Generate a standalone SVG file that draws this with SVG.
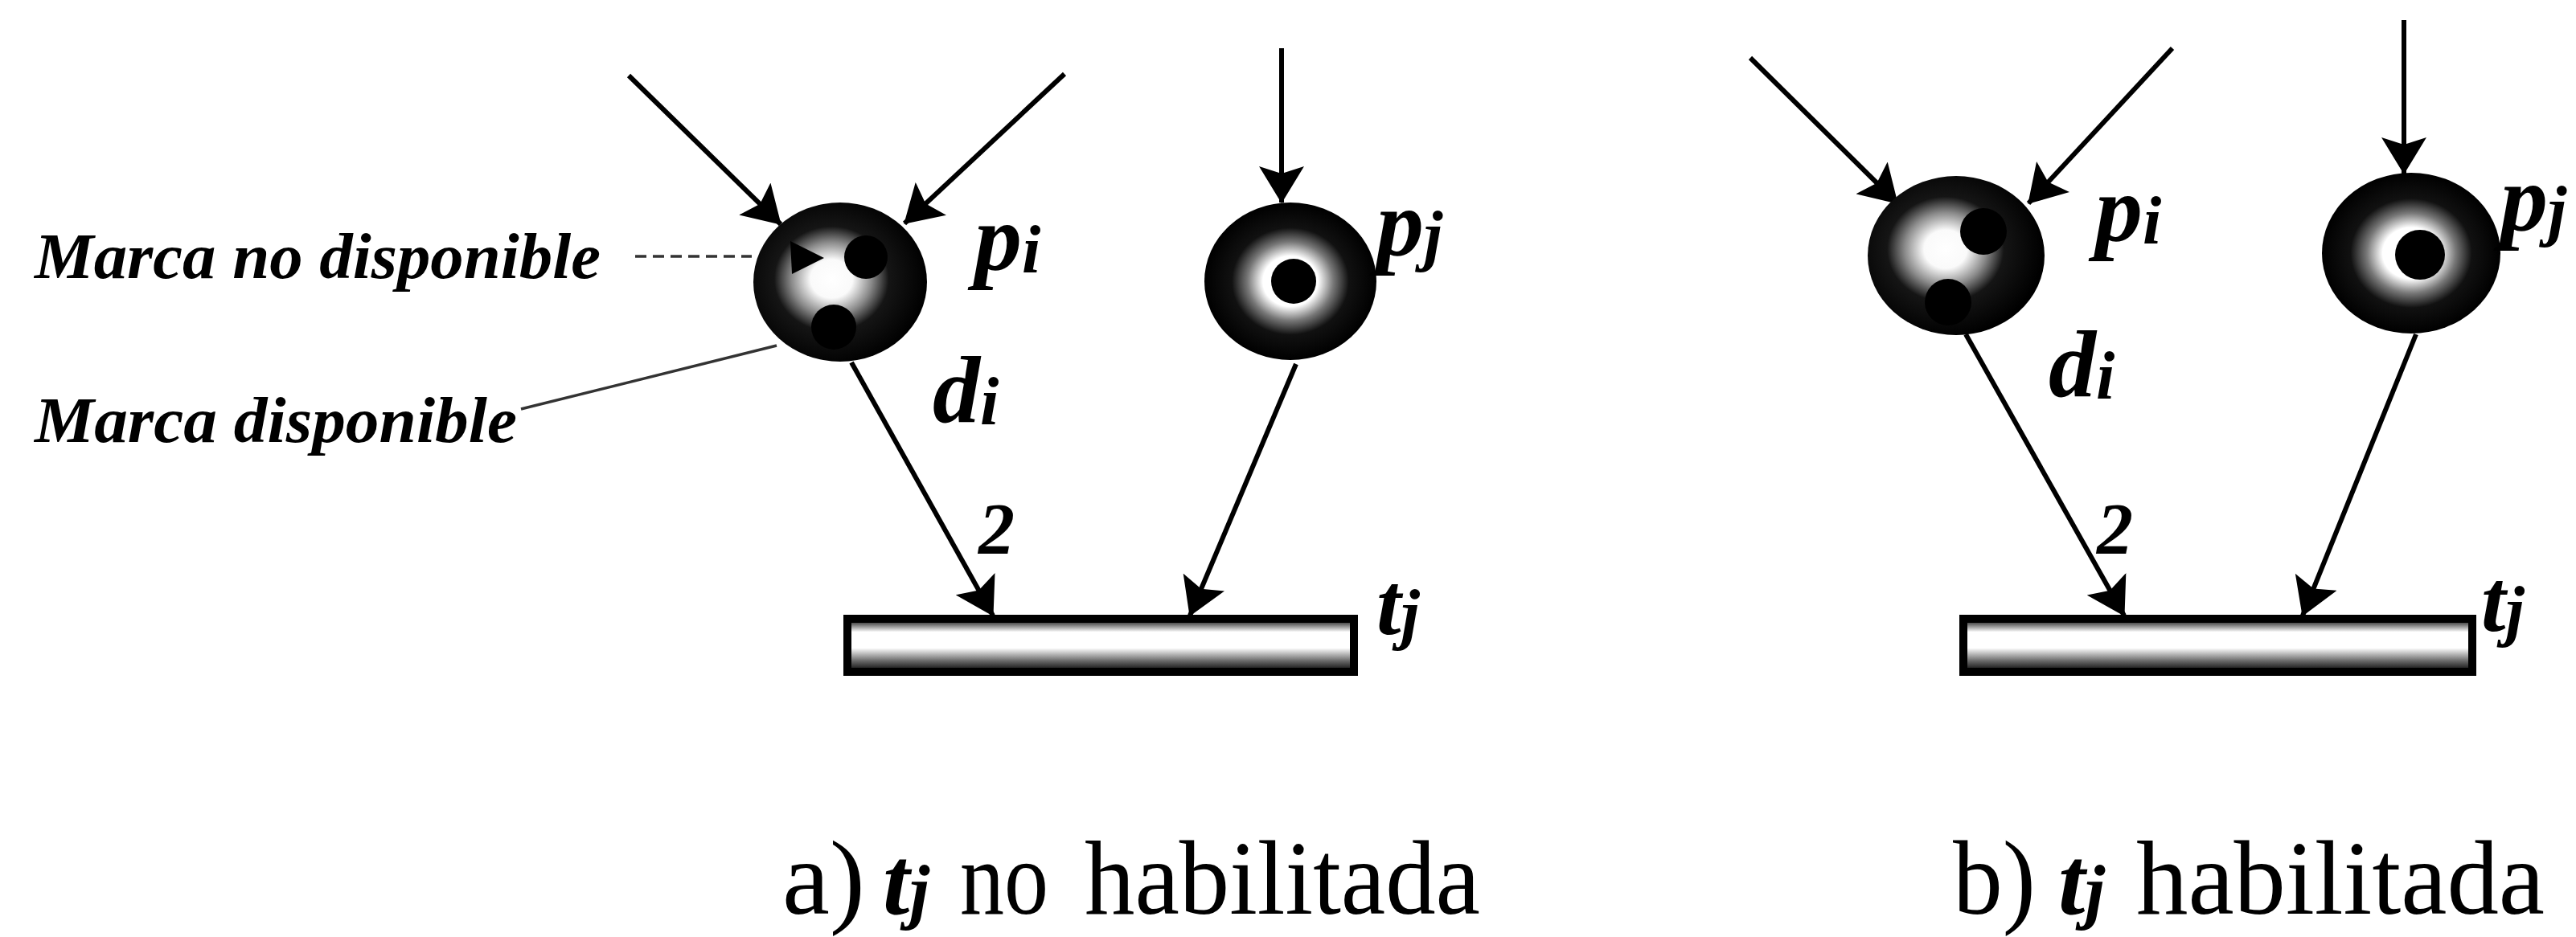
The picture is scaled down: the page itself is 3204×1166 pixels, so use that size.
<svg xmlns="http://www.w3.org/2000/svg" width="3204" height="1166" viewBox="0 0 3204 1166">
<style>
.lbl{font-family:"Liberation Serif","Times New Roman",serif;font-weight:bold;font-style:italic;fill:#000}
.cap{font-family:"Liberation Serif","Times New Roman",serif;fill:#000}
.arc{stroke:#000;stroke-width:6;fill:none;marker-end:url(#ah)}
.lead{stroke:#333;stroke-width:3.5;fill:none}
.tok{fill:#000}
.tr{fill:url(#bar);stroke:#000;stroke-width:10}
</style>
<defs>
<marker id="ah" viewBox="0 0 46 56" refX="45" refY="28" markerWidth="46" markerHeight="56" markerUnits="userSpaceOnUse" orient="auto">
<path d="M0,0 L46,28 L0,56 L9,28 z" fill="#000"/>
</marker>
<radialGradient id="sphL" cx="0.45" cy="0.48" r="0.55">
<stop offset="0" stop-color="#fff"/>
<stop offset="0.22" stop-color="#fafafa"/>
<stop offset="0.42" stop-color="#8a8a8a"/>
<stop offset="0.6" stop-color="#151515"/>
<stop offset="1" stop-color="#000"/>
</radialGradient>
<radialGradient id="sphR" cx="0.44" cy="0.46" r="0.55">
<stop offset="0" stop-color="#fff"/>
<stop offset="0.22" stop-color="#fafafa"/>
<stop offset="0.42" stop-color="#8a8a8a"/>
<stop offset="0.6" stop-color="#151515"/>
<stop offset="1" stop-color="#000"/>
</radialGradient>
<radialGradient id="sphC" cx="0.5" cy="0.5" r="0.5">
<stop offset="0" stop-color="#fff"/>
<stop offset="0.32" stop-color="#fff"/>
<stop offset="0.5" stop-color="#777"/>
<stop offset="0.68" stop-color="#111"/>
<stop offset="1" stop-color="#000"/>
</radialGradient>
<linearGradient id="bar" x1="0" y1="0" x2="0" y2="1">
<stop offset="0" stop-color="#000"/>
<stop offset="0.25" stop-color="#fff"/>
<stop offset="0.55" stop-color="#fff"/>
<stop offset="0.8" stop-color="#666"/>
<stop offset="1" stop-color="#000"/>
</linearGradient>
</defs>
<rect width="3204" height="1166" fill="#fff"/>

<g id="connectors">
<line class="arc" x1="782" y1="94" x2="971" y2="279"/>
<line class="arc" x1="1324" y1="92" x2="1125" y2="278"/>
<line class="arc" x1="1594" y1="60" x2="1594" y2="252"/>
<line class="arc" x1="1059" y1="451" x2="1235" y2="766"/>
<line class="arc" x1="1612" y1="453" x2="1480" y2="766"/>
<line class="arc" x1="2177" y1="72" x2="2360" y2="253"/>
<line class="arc" x1="2702" y1="60" x2="2523" y2="253"/>
<line class="arc" x1="2990" y1="25" x2="2990" y2="216"/>
<line class="arc" x1="2445" y1="416" x2="2642" y2="766"/>
<line class="arc" x1="3005" y1="416" x2="2864" y2="766"/>
<line class="lead" x1="790" y1="319" x2="935" y2="319" stroke-dasharray="14 8"/>
<line class="lead" x1="648" y1="509" x2="966" y2="430"/>
</g>

<g id="pi_a">
<ellipse cx="1045" cy="351" rx="108" ry="99" fill="url(#sphL)"/>
<polygon points="983,300 1025,321 985,341" fill="#000"/>
<circle class="tok" cx="1077" cy="320" r="27"/>
<circle class="tok" cx="1037" cy="407" r="28"/>
<text class="lbl" x="1212" y="336" font-size="118">p<tspan font-size="84" dy="3">i</tspan></text>
</g>
<g id="pj_a">
<ellipse cx="1605" cy="350" rx="107" ry="98" fill="url(#sphC)"/>
<circle class="tok" cx="1609" cy="350" r="28"/>
<text class="lbl" x="1712" y="318" font-size="118">p<tspan font-size="84" dy="3">j</tspan></text>
</g>
<g id="tj_a">
<rect class="tr" x="1054" y="770" width="630" height="66"/>
<text class="lbl" x="1712" y="789" font-size="110">t<tspan font-size="84" dy="3">j</tspan></text>
</g>
<g id="labels_a">
<text class="lbl" x="1160" y="525" font-size="118">d<tspan font-size="84" dy="3">i</tspan></text>
<text class="lbl" x="1217" y="689" font-size="90">2</text>
<text class="lbl" x="43" y="346" font-size="80" textLength="704" lengthAdjust="spacingAndGlyphs">Marca no disponible</text>
<text class="lbl" x="43" y="550" font-size="80" textLength="600" lengthAdjust="spacingAndGlyphs">Marca disponible</text>
<text class="cap" x="973" y="1137" font-size="132" textLength="103" lengthAdjust="spacingAndGlyphs">a)</text>
<text class="lbl" x="1098" y="1137" font-size="120">t<tspan font-size="90" dy="2">j</tspan></text>
<text class="cap" x="1194" y="1137" font-size="132" textLength="110" lengthAdjust="spacingAndGlyphs">no</text>
<text class="cap" x="1349" y="1137" font-size="132" textLength="492" lengthAdjust="spacingAndGlyphs">habilitada</text>
</g>

<g id="pi_b">
<ellipse cx="2433" cy="318" rx="110" ry="99" fill="url(#sphR)"/>
<circle class="tok" cx="2467" cy="288" r="29"/>
<circle class="tok" cx="2423" cy="376" r="29"/>
<text class="lbl" x="2606" y="300" font-size="118">p<tspan font-size="84" dy="3">i</tspan></text>
</g>
<g id="pj_b">
<ellipse cx="2999" cy="315" rx="111" ry="100" fill="url(#sphC)"/>
<circle class="tok" cx="3010" cy="317" r="31"/>
<text class="lbl" x="3110" y="287" font-size="118">p<tspan font-size="84" dy="3">j</tspan></text>
</g>
<g id="tj_b">
<rect class="tr" x="2442" y="770" width="633" height="66"/>
<text class="lbl" x="3086" y="785" font-size="110">t<tspan font-size="84" dy="3">j</tspan></text>
</g>
<g id="labels_b">
<text class="lbl" x="2548" y="493" font-size="118">d<tspan font-size="84" dy="3">i</tspan></text>
<text class="lbl" x="2608" y="689" font-size="90">2</text>
<text class="cap" x="2429" y="1137" font-size="132" textLength="103" lengthAdjust="spacingAndGlyphs">b)</text>
<text class="lbl" x="2560" y="1137" font-size="120">t<tspan font-size="90" dy="2">j</tspan></text>
<text class="cap" x="2657" y="1137" font-size="132" textLength="508" lengthAdjust="spacingAndGlyphs">habilitada</text>
</g>
</svg>
